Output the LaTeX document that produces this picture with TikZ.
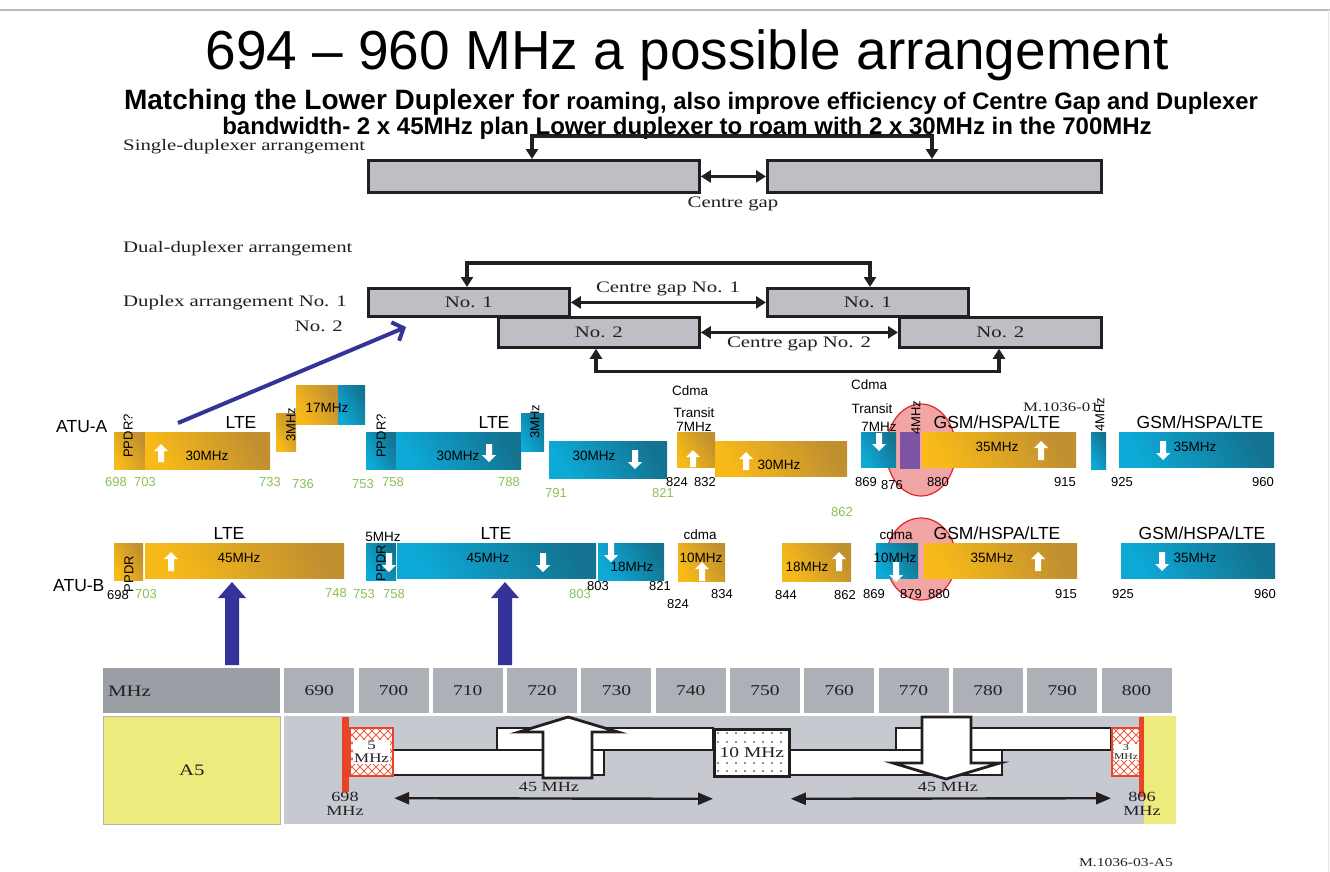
\documentclass[tikz,border=0pt]{standalone}
\usepackage{fontspec}
\setmainfont{Liberation Sans}
\newfontfamily\serw[FakeStretch=1.3]{Liberation Serif}
\usetikzlibrary{arrows.meta,patterns,patterns.meta}
\newcommand{\fsz}[1]{\fontsize{#1}{#1}\selectfont}
\definecolor{orgL}{HTML}{F8BA18}
\definecolor{orgD}{HTML}{C08F30}
\definecolor{bluL}{HTML}{0DAAD8}
\definecolor{bluD}{HTML}{137390}
\definecolor{grnN}{HTML}{8CC152}
\definecolor{boxG}{HTML}{BDBFC4}
\definecolor{hdrG}{HTML}{ADB0B7}
\definecolor{hdrD}{HTML}{9A9EA5}
\definecolor{bodyG}{HTML}{C6C9D0}
\definecolor{yel}{HTML}{EDEA7E}
\definecolor{redB}{HTML}{E8442A}
\definecolor{redE}{HTML}{E2262A}
\definecolor{pinkE}{HTML}{F2A5A5}
\definecolor{navy}{HTML}{333399}
\definecolor{purp}{HTML}{7D54A4}
\definecolor{txtG}{HTML}{231F20}
\tikzdeclarepattern{
  name=bigcross, type=uncolored,
  bottom left={(-.1pt,-.1pt)}, top right={(8.1pt,8.1pt)},
  tile size={(8pt,8pt)},
  code={\draw[line width=0.9pt] (0pt,0pt) -- (8pt,8pt) (0pt,8pt) -- (8pt,0pt);}
}
\newcommand{\wua}[3]{\fill[white] ({#1-3},#3) -- ({#1-3},{#2+7}) -- ({#1-7},{#2+7}) -- (#1,#2) -- ({#1+7},{#2+7}) -- ({#1+3},{#2+7}) -- ({#1+3},#3) -- cycle;}
\newcommand{\wda}[3]{\fill[white] ({#1-3},#2) -- ({#1-3},{#3-7}) -- ({#1-7},{#3-7}) -- (#1,#3) -- ({#1+7},{#3-7}) -- ({#1+3},{#3-7}) -- ({#1+3},#2) -- cycle;}
\tikzset{
  ob/.style={left color=orgL, right color=orgD, shading angle=120},
  bb/.style={left color=bluL, right color=bluD, shading angle=120},
  snum/.style={font=\fsz{13}, inner sep=0},
  gnum/.style={snum, text=grnN},
  btxt/.style={font=\fsz{13.5}, inner sep=0},
  rtxt/.style={font=\fsz{13}, rotate=90, inner sep=0},
  big/.style={font=\fsz{17.5}, inner sep=0},
  ser/.style={font=\serw\fsz{16}, text=txtG, inner sep=0},
  tser/.style={font=\serw\fsz{14}, text=txtG, inner sep=0, align=center},
  dbox/.style={draw=txtG, line width=2.8pt, fill=boxG, inner sep=0, anchor=north west, font=\serw\fsz{16}, text=txtG},
  conn2/.style={draw=txtG, line width=3.2pt, {Triangle[length=10pt,width=12pt]}-{Triangle[length=10pt,width=12pt]}},
  tarr/.style={draw=txtG, line width=2.4pt, {Triangle[length=15pt,width=12pt]}-{Triangle[length=15pt,width=12pt]}},
  cell/.style={anchor=north west, inner sep=0, minimum height=45pt, minimum width=70pt, fill=hdrG, font=\serw\fsz{15}, text=txtG},
  wbar/.style={fill=white, draw=txtG, line width=2.8pt},
  hbox/.style={anchor=north west, inner sep=0, draw=redB, line width=2.2pt, preaction={fill=white}, pattern=bigcross, pattern color=redB!85},
}
\begin{document}
\begin{tikzpicture}[x=1pt,y=-1pt]
\useasboundingbox (0,0) rectangle (1330,871);
\fill[white] (0,0) rectangle (1330,871);
\draw[gray!55, line width=2pt] (0,10) -- (1330,10);
\draw[gray!20, line width=1pt] (1328.5,10) -- (1328.5,871);

% titles
\node[font=\fsz{55}, anchor=base, inner sep=0] (title) at (687,69) {694 – 960 MHz a possible arrangement};
\node[font=\bfseries\fsz{23.8}, anchor=base, inner sep=0] (sub1) at (691,109) {{\fsz{28}Matching the Lower Duplexer for} roaming, also improve efficiency of Centre Gap and Duplexer};
\node[font=\bfseries\fsz{24}, anchor=base, inner sep=0] (sub2) at (687,134) {bandwidth- 2 x 45MHz plan Lower duplexer to roam with 2 x 30MHz in the 700MHz};

% single duplexer
\node[ser, anchor=west] (lsingle) at (123,147) {Single-duplexer arrangement};
\node[dbox, minimum width=331pt, minimum height=32pt] (s1) at (367,159) {};
\node[dbox, minimum width=334pt, minimum height=32pt] (s2) at (766,159) {};
\draw[conn2] ([xshift=165pt]s1.north west) -- ++(0,-23) -| ([xshift=166pt]s2.north west);
\draw[conn2] (s1.east) -- (s2.west);
\node[ser] (cg) at (733,204) {Centre gap};

% dual duplexer
\node[ser, anchor=west] (ldual) at (123,249) {Dual-duplexer arrangement};
\node[ser, anchor=west] (ldup1) at (123,303) {Duplex arrangement No. 1};
\node[ser, anchor=east] (ldup2) at (343,326) {No. 2};
\node[dbox, minimum width=201pt, minimum height=28pt] (d1a) at (367,287) {No. 1};
\node[dbox, minimum width=201pt, minimum height=28pt] (d1b) at (766,287) {No. 1};
\node[dbox, minimum width=201pt, minimum height=30pt] (d2a) at (497,316) {No. 2};
\node[dbox, minimum width=202pt, minimum height=30pt] (d2b) at (898,316) {No. 2};
\draw[conn2] ([xshift=100pt]d1a.north west) -- ++(0,-24) -| ([xshift=104pt]d1b.north west);
\draw[conn2] ([xshift=99pt]d2a.south west) -- ++(0,23) -| ([xshift=101pt]d2b.south west);
\draw[conn2] (d1a.east) -- (d1b.west);
\draw[conn2] (d2a.east) -- (d2b.west);
\node[ser] (cg1) at (668,289) {Centre gap No. 1};
\node[ser] (cg2) at (799,344) {Centre gap No. 2};

% blue diagonal arrow
\coordinate (bt) at (178,423);
\coordinate (bh) at (406,327);
\draw[navy, line width=4pt, -{Straight Barb[length=9pt,width=20pt]}] (bt) -- (bh);

% ===== ATU-A =====
\node[big, anchor=west] (atua) at (56,427) {ATU-A};
\shade[ob] (114,432) rectangle (145,469);
\shade[ob] (145,432) rectangle (270,469);
\shade[ob] (276,413) rectangle (296,451);
\shade[ob] (296,385) rectangle (338,424);
\shade[bb] (338,385) rectangle (365,424);
\shade[bb] (366,432) rectangle (396,469);
\shade[bb] (396,432) rectangle (521,469);
\shade[bb] (521,413) rectangle (544,451);
\shade[bb] (549,441) rectangle (667,478);
\shade[ob] (677,432) rectangle (715,467);
\shade[ob] (715,441) rectangle (847,476);
\filldraw[fill=pinkE, draw=redE, line width=1.2pt] (921,450) ellipse [x radius=35pt, y radius=46pt];
\shade[bb] (861,432) rectangle (896,467);
\fill[purp] (900,432) rectangle (920,469);
\shade[ob] (922,432) rectangle (1076,467);
\shade[bb] (1091,432) rectangle (1106,469);
\shade[bb] (1119,432) rectangle (1274,467);
\wua{161}{444}{462}
\wda{489}{444}{462}
\wda{635}{450}{469}
\wua{693}{450}{467}
\wua{746}{452}{470}
\wda{879}{433}{451}
\wua{1041}{441}{460}
\wda{1163}{441}{460}
\node[rtxt] (pa1) at (128,436) {PPDR?};
\node[big] (ltea1) at (241,422) {LTE};
\node[btxt] (ma1) at (207,456) {30MHz};
\node[rtxt] (ma2) at (291,425) {3MHz};
\node[btxt] (ma3) at (327,408) {17MHz};
\node[rtxt] (pa2) at (381,436) {PPDR?};
\node[big] (ltea2) at (494,422) {LTE};
\node[btxt] (ma4) at (458,456) {30MHz};
\node[rtxt] (ma5) at (535,422) {3MHz};
\node[btxt] (ma6) at (594,456) {30MHz};
\node[btxt] (cda1) at (690,391) {Cdma};
\node[btxt] (tra1) at (694,413) {Transit};
\node[btxt] (sva1) at (694,427) {7MHz};
\node[btxt] (ma7) at (779,465) {30MHz};
\node[btxt] (cda2) at (869,385) {Cdma};
\node[btxt] (tra2) at (872,409) {Transit};
\node[btxt] (sva2) at (879,427) {7MHz};
\node[rtxt] (fa1) at (916,418) {4MHz};
\node[big] (gsa1) at (997,422) {GSM/HSPA/LTE};
\node[btxt] (ma8) at (997,447) {35MHz};
\node[font=\serw\fsz{13}, text=txtG, inner sep=0, anchor=west] (mref) at (1023,407) {M.1036-01};
\node[rtxt] (fa2) at (1100,415) {4MHz};
\node[big] (gsa2) at (1200,422) {GSM/HSPA/LTE};
\node[btxt] (ma9) at (1195,447) {35MHz};
\foreach \x/\y/\t [count=\k] in {116/482/698, 145/482/703, 270/482/733, 303/484/736, 363/484/753, 393/482/758, 509/482/788, 556/493/791, 663/493/821}
  \node[gnum] (ga\k) at (\x,\y) {\t};
\foreach \x/\y/\t [count=\k] in {677/482/824, 705/482/832, 866/482/869, 892/485/876, 938/482/880, 1065/482/915, 1122/482/925, 1263/482/960}
  \node[snum] (ka\k) at (\x,\y) {\t};

% ===== ATU-B =====
\node[big, anchor=west] (atub) at (53,586) {ATU-B};
\shade[ob] (114,543) rectangle (143,580);
\shade[ob] (145,543) rectangle (344,578);
\shade[bb] (366,543) rectangle (396,580);
\shade[bb] (397,543) rectangle (596,578);
\shade[bb] (598,543) rectangle (664,580);
\shade[ob] (678,543) rectangle (725,581);
\shade[ob] (782,543) rectangle (851,581);
\filldraw[fill=pinkE, draw=redE, line width=1.2pt] (921,559) ellipse [x radius=35pt, y radius=41pt];
\shade[bb] (876,543) rectangle (918,578);
\shade[ob] (924,543) rectangle (1077,578);
\shade[bb] (1121,543) rectangle (1275,578);
\wua{171}{552}{571}
\wda{389}{553}{572}
\wda{543}{553}{572}
\wda{611}{543}{562}
\wua{702}{562}{581}
\wua{839}{552}{571}
\wda{896}{562}{582}
\wua{1038}{552}{571}
\wda{1162}{552}{571}
\node[rtxt] (pb1) at (129,574) {PPDR};
\node[big] (lteb1) at (229,533) {LTE};
\node[btxt] (mb1) at (239,558) {45MHz};
\node[btxt] (mb2) at (383,537) {5MHz};
\node[rtxt] (pb2) at (381,563) {PPDR};
\node[big] (lteb2) at (496,533) {LTE};
\node[btxt] (mb3) at (488,558) {45MHz};
\node[btxt] (mb4) at (632,567) {18MHz};
\node[btxt] (cdb1) at (700,535) {cdma};
\node[btxt] (mb5) at (701,558) {10MHz};
\node[btxt] (mb6) at (807,567) {18MHz};
\node[btxt] (cdb2) at (896,535) {cdma};
\node[btxt] (mb7) at (895,558) {10MHz};
\node[big] (gsb1) at (997,533) {GSM/HSPA/LTE};
\node[btxt] (mb8) at (992,558) {35MHz};
\node[big] (gsb2) at (1202,533) {GSM/HSPA/LTE};
\node[btxt] (mb9) at (1195,558) {35MHz};
\foreach \x/\y/\t [count=\k] in {146/594/703, 336/593/748, 364/594/753, 394/594/758, 580/594/803, 842/512/862}
  \node[gnum] (gb\k) at (\x,\y) {\t};
\foreach \x/\y/\t [count=\k] in {118/595/698, 598/586/803, 660/586/821, 678/604/824, 722/594/834, 786/595/844, 845/595/862, 874/594/869, 911/594/879, 939/594/880, 1066/594/915, 1123/594/925, 1265/594/960}
  \node[snum] (kb\k) at (\x,\y) {\t};

% navy arrows
\fill[navy] (225,665) -- (225,598) -- (218,598) -- (232,582) -- (246,598) -- (239,598) -- (239,665) -- cycle;
\fill[navy] (498,665) -- (498,598) -- (491,598) -- (505,582) -- (519,598) -- (512,598) -- (512,665) -- cycle;

% ===== table =====
\node[cell, fill=hdrD, minimum width=177pt] (mhz) at (103,668) {};
\node[font=\serw\fsz{16}, text=txtG, inner sep=0, anchor=west] (mhzt) at (108,691) {MHz};
\foreach \v [count=\i from 0] in {690,700,...,800}
  \node[cell] (h\v) at ({284+\i*74.3},668) {\v};
\node[cell, fill=yel, draw=gray!60, line width=0.8pt, minimum width=177pt, minimum height=108pt, font=\serw\fsz{16}] (a5) at (103,716) {A5};
\fill[bodyG] (284,716) rectangle (1144,824);
\fill[yel] (1144,716) rectangle (1176,824);
% bars left
\filldraw[wbar] (497,728) rectangle (713,750);
\filldraw[wbar] (392,750) rectangle (604,775);
\filldraw[wbar] (543,778) -- (543,732) -- (519,732) -- (568,717) -- (618,732) -- (592,732) -- (592,778) -- cycle;
% bars right
\filldraw[wbar] (896,728) rectangle (1111,750);
\filldraw[wbar] (788,750) rectangle (1002,775);
\filldraw[wbar] (922,717) -- (922,763) -- (893,763) -- (946,779) -- (1000,763) -- (971,763) -- (971,717) -- cycle;
% 10 MHz
\node[anchor=north west, inner sep=0, fill=white, draw=txtG, line width=2.8pt, minimum width=75pt, minimum height=47pt] (b10) at (713,728) {};
\foreach \yy in {733,742,763,771}
  \foreach \xx in {718,727,...,784}
    \fill[txtG] (\xx,\yy) circle (0.8pt);
\node[font=\serw\fsz{15}, text=txtG, fill=white, inner sep=1pt] (t10) at (b10.center) {10 MHz};
% 5 / 3 MHz
\node[hbox, minimum width=43pt, minimum height=48pt] (b5) at (349,727) {};
\node[tser, font=\serw\fsz{13}, fill=white, inner sep=1pt] (t5) at (b5.center) {5\\MHz};
\node[hbox, minimum width=28pt, minimum height=48pt] (b3) at (1111,727) {};
\node[tser, font=\serw\fsz{9}, fill=white, inner sep=0.5pt] (t3) at (b3.center) {3\\MHz};
\fill[redB] (342,717) rectangle (349,792);
\fill[redB] (1139,717) rectangle (1144,797);
\node[tser] (t698) at (345,804) {698\\MHz};
\node[tser] (t806) at (1142,804) {806\\MHz};
\draw[tarr] ([yshift=-21pt]b5.south east) -- ([yshift=-21pt]b10.south west);
\draw[tarr] ([yshift=-21pt]b10.south east) -- ([yshift=-21pt]b3.south west);
\node[tser] (l45a) at (549,787) {45 MHz};
\node[tser] (l45b) at (948,787) {45 MHz};
\node[font=\serw\fsz{12}, text=txtG, inner sep=0] (fig) at (1126,863) {M.1036-03-A5};
\end{tikzpicture}
\end{document}
